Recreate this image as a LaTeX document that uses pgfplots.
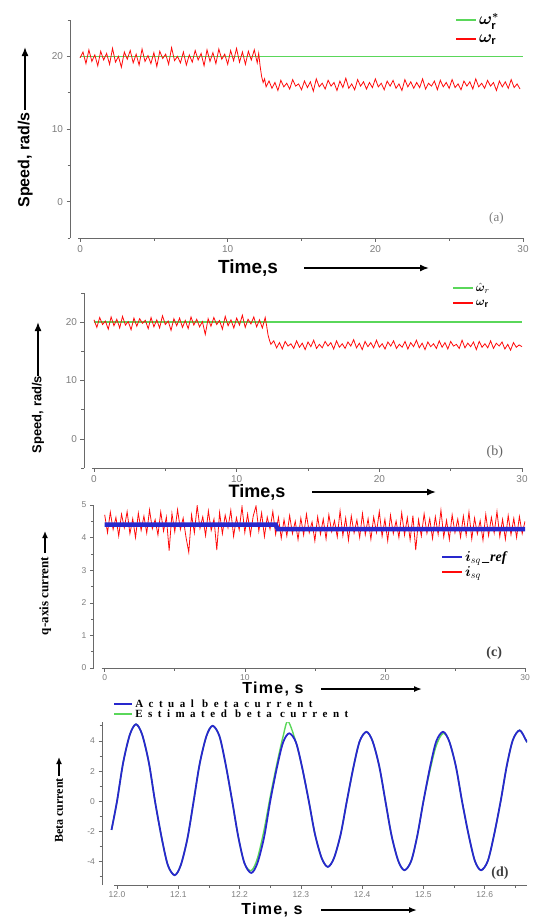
\documentclass[border=0pt]{standalone}
\usepackage{amsmath}
\usepackage{bm}
\usepackage{fontspec}
\setmainfont{Liberation Sans}
\newfontfamily\serif{Liberation Serif}
\newfontfamily\spserif[LetterSpace=50]{Liberation Serif}
\newfontfamily\spsans[LetterSpace=8]{Liberation Sans}
\usepackage{pgfplots}
\pgfplotsset{compat=1.18}
\usepackage{pgfplotstable}
\usetikzlibrary{arrows.meta}

\definecolor{myred}{RGB}{255,10,10}
\definecolor{mygreen}{RGB}{90,215,90}
\definecolor{myblue}{RGB}{40,40,205}
\definecolor{tickgray}{RGB}{125,125,125}
\definecolor{axgray}{RGB}{105,105,105}

\pgfplotsset{
  legend image code/.code={\draw[#1] (0pt,0pt) -- (20pt,0pt);},
  panel/.style={
    scale only axis,
    axis lines=left,
    axis line style={-, axgray, line width=0.8pt},
    tick style={axgray, line width=0.6pt},
    tick align=outside,
    major tick length=3.5pt, minor tick length=2.5pt,
    ticklabel style={font=\fontsize{10}{10}\selectfont, text=tickgray},
    /pgf/number format/assume math mode=true,
    legend cell align=left,
    legend style={draw=none, fill=none, inner sep=0pt},
  },
}

\pgfplotstableread{
t v
0.0 19.8
0.2 20.6
0.4 19.0
0.6 20.9
0.8 19.3
1.0 20.2
1.2 18.7
1.4 20.7
1.6 19.5
1.8 20.4
2.0 18.9
2.2 21.1
2.4 19.2
2.6 20.0
2.8 18.5
3.0 20.6
3.2 19.6
3.4 20.8
3.6 19.1
3.8 20.3
4.0 18.8
4.2 21.0
4.4 19.3
4.6 20.1
4.8 19.0
5.0 20.5
5.2 18.6
5.4 20.7
5.6 19.7
5.8 20.3
6.0 18.9
6.2 21.2
6.4 19.4
6.6 20.0
6.8 19.1
7.0 20.6
7.2 18.8
7.4 20.2
7.6 19.2
7.8 20.8
8.0 19.5
8.2 20.4
8.4 18.7
8.6 20.9
8.8 19.3
9.0 20.5
9.2 19.0
9.4 21.0
9.6 19.6
9.8 20.3
10.0 18.9
10.2 20.8
10.4 19.4
10.6 21.1
10.8 19.2
11.0 20.6
11.2 18.9
11.4 20.7
11.6 19.5
11.8 20.9
12.0 19.1
12.1 20.4
12.2 18.6
12.3 17.2
12.4 16.4
12.5 16.9
12.6 15.8
12.8 16.6
13.0 15.6
13.2 16.4
13.4 15.3
13.6 16.7
13.8 15.8
14.0 16.3
14.2 15.5
14.4 16.8
14.6 15.9
14.8 16.2
15.0 15.4
15.2 16.6
15.4 15.7
15.6 16.5
15.8 15.2
16.0 16.9
16.2 15.8
16.4 16.3
16.6 15.5
16.8 16.7
17.0 15.9
17.2 16.4
17.4 15.3
17.6 16.6
17.8 15.7
18.0 17.0
18.2 15.6
18.4 16.2
18.6 15.4
18.8 16.8
19.0 15.9
19.2 16.5
19.4 15.5
19.6 16.4
19.8 15.7
20.0 16.9
20.2 15.8
20.4 16.3
20.6 15.4
20.8 16.6
21.0 15.9
21.2 16.7
21.4 15.6
21.6 16.2
21.8 15.3
22.0 16.8
22.2 15.8
22.4 16.5
22.6 15.6
22.8 16.4
23.0 15.7
23.2 16.9
23.4 15.5
23.6 16.3
23.8 15.9
24.0 16.6
24.2 15.4
24.4 16.7
24.6 15.8
24.8 16.4
25.0 15.6
25.2 16.8
25.4 15.7
25.6 16.2
25.8 15.4
26.0 16.6
26.2 15.9
26.4 16.5
26.6 15.5
26.8 16.9
27.0 15.8
27.2 16.3
27.4 15.6
27.6 16.7
27.8 15.9
28.0 16.4
28.2 15.3
28.4 16.6
28.6 15.8
28.8 16.5
29.0 15.6
29.2 16.8
29.4 15.7
29.6 16.2
29.8 15.5
}\speedA

\pgfplotstableread{
t v
0.0 20.4
0.2 19.1
0.4 20.8
0.6 19.6
0.8 20.2
1.0 18.8
1.2 20.9
1.4 19.4
1.6 20.5
1.8 19.0
2.0 21.0
2.2 19.5
2.4 20.1
2.6 18.7
2.8 20.7
3.0 19.3
3.2 20.6
3.4 19.8
3.6 20.3
3.8 18.9
4.0 20.8
4.2 19.2
4.4 20.4
4.6 19.0
4.8 21.1
5.0 19.6
5.2 20.2
5.4 18.6
5.6 20.6
5.8 19.4
6.0 20.7
6.2 19.1
6.4 20.3
6.6 18.9
6.8 20.9
7.0 19.5
7.2 20.5
7.4 19.2
7.6 20.1
7.8 17.9
8.0 20.6
8.2 19.3
8.4 20.8
8.6 19.6
8.8 20.3
9.0 18.8
9.2 21.0
9.4 19.4
9.6 20.4
9.8 19.0
10.0 20.7
10.2 19.5
10.4 21.2
10.6 19.1
10.8 20.5
11.0 19.7
11.2 20.9
11.4 19.2
11.6 20.4
11.8 19.0
12.0 20.8
12.1 19.4
12.2 17.8
12.3 16.9
12.4 16.2
12.6 16.8
12.8 15.6
13.0 16.5
13.2 15.4
13.4 16.7
13.6 15.9
13.8 16.3
14.0 15.5
14.2 16.8
14.4 15.7
14.6 16.4
14.8 15.3
15.0 16.6
15.2 15.8
15.4 16.9
15.6 15.5
15.8 16.2
16.0 15.6
16.2 16.7
16.4 15.9
16.6 16.5
16.8 15.4
17.0 16.8
17.2 15.7
17.4 16.3
17.6 15.5
17.8 16.6
18.0 15.9
18.2 17.0
18.4 15.6
18.6 16.4
18.8 15.3
19.0 16.7
19.2 15.8
19.4 16.5
19.6 15.6
19.8 16.9
20.0 15.7
20.2 16.3
20.4 15.4
20.6 16.6
20.8 15.9
21.0 16.8
21.2 15.5
21.4 16.2
21.6 15.7
21.8 16.7
22.0 15.4
22.2 16.5
22.4 15.8
22.6 16.9
22.8 15.6
23.0 16.4
23.2 15.3
23.4 16.6
23.6 15.8
23.8 16.3
24.0 15.5
24.2 16.8
24.4 15.7
24.6 16.5
24.8 15.4
25.0 16.7
25.2 15.9
25.4 16.2
25.6 15.5
25.8 16.9
26.0 15.6
26.2 16.4
26.4 15.8
26.6 16.6
26.8 15.3
27.0 16.7
27.2 15.7
27.4 16.3
27.6 15.6
27.8 16.8
28.0 15.5
28.2 16.4
28.4 15.9
28.6 16.6
28.8 15.4
29.0 16.2
29.2 15.2
29.4 16.5
29.6 15.7
29.8 16.1
30.0 15.8
}\speedB

\pgfplotstableread{
t v
0.0 4.70
0.2 4.15
0.4 4.78
0.6 4.25
0.8 4.62
1.0 4.05
1.2 4.72
1.4 4.30
1.6 4.80
1.8 4.12
2.0 4.58
2.2 4.00
2.4 4.75
2.6 4.22
2.8 4.66
3.0 4.14
3.2 4.85
3.4 4.27
3.6 4.55
3.8 4.08
4.0 4.79
4.2 4.20
4.4 4.63
4.6 3.60
4.8 4.74
5.0 4.18
5.2 4.86
5.4 4.25
5.6 4.60
5.8 4.02
6.0 3.55
6.2 4.70
6.4 4.15
6.6 4.98
6.8 4.28
7.0 4.64
7.2 4.06
7.4 4.82
7.6 4.22
7.8 4.57
8.0 3.62
8.2 4.77
8.4 4.12
8.6 4.69
8.8 4.30
9.0 4.84
9.2 4.04
9.4 4.61
9.6 4.24
9.8 4.95
10.0 4.16
10.2 4.72
10.4 4.08
10.6 4.66
10.8 4.97
11.0 4.20
11.2 4.76
11.4 4.03
11.6 4.63
11.8 4.26
12.0 4.80
12.2 4.10
12.4 4.62
12.6 3.98
12.8 4.55
13.0 4.05
13.2 4.68
13.4 4.12
13.6 4.50
13.8 3.94
14.0 4.60
14.2 4.08
14.4 4.72
14.6 4.15
14.8 4.48
15.0 3.90
15.2 4.64
15.4 4.10
15.6 4.57
15.8 3.96
16.0 4.70
16.2 4.18
16.4 4.52
16.6 4.02
16.8 4.82
17.0 4.06
17.2 4.60
17.4 3.92
17.6 4.66
17.8 4.14
18.0 4.54
18.2 4.00
18.4 4.74
18.6 4.09
18.8 4.58
19.0 3.95
19.2 4.63
19.4 4.16
19.6 4.80
19.8 4.04
20.0 4.56
20.2 3.90
20.4 4.69
20.6 4.12
20.8 4.51
21.0 4.00
21.2 4.76
21.4 4.08
21.6 4.61
21.8 3.93
22.0 4.67
22.2 3.62
22.4 4.55
22.6 4.05
22.8 4.73
23.0 4.13
23.2 4.58
23.4 3.97
23.6 4.64
23.8 4.10
24.0 4.84
24.2 4.02
24.4 4.53
24.6 3.94
24.8 4.70
25.0 4.15
25.2 4.57
25.4 4.01
25.6 4.66
25.8 4.07
26.0 4.78
26.2 3.96
26.4 4.60
26.6 4.11
26.8 4.52
27.0 3.92
27.2 4.71
27.4 4.06
27.6 4.62
27.8 4.14
28.0 4.80
28.2 4.03
28.4 4.56
28.6 3.95
28.8 4.68
29.0 4.09
29.2 4.59
29.4 4.00
29.6 4.65
29.8 4.12
30.0 4.50
}\iqC

\pgfplotstableread{
t v
11.991 -1.9
12.000 0.0
12.010 2.55
12.021 4.42
12.031 5.1
12.041 4.42
12.052 2.55
12.062 0.0
12.073 -2.45
12.083 -4.24
12.094 -4.9
12.104 -4.24
12.115 -2.45
12.125 0.0
12.135 2.5
12.146 4.33
12.156 5.0
12.167 4.33
12.177 2.5
12.188 0.0
12.198 -2.38
12.208 -4.11
12.219 -4.75
12.229 -4.11
12.240 -2.38
12.250 0.0
12.261 2.25
12.271 3.9
12.281 4.5
12.292 3.9
12.302 2.25
12.313 0.0
12.323 -2.18
12.334 -3.77
12.344 -4.35
12.354 -3.77
12.365 -2.18
12.375 0.0
12.386 2.3
12.396 3.98
12.407 4.6
12.417 3.98
12.428 2.3
12.438 0.0
12.448 -2.28
12.459 -3.96
12.469 -4.57
12.480 -3.96
12.490 -2.28
12.500 0.0
12.511 2.3
12.521 3.98
12.532 4.6
12.542 3.98
12.553 2.3
12.563 0.0
12.574 -2.28
12.584 -3.96
12.594 -4.57
12.605 -3.96
12.615 -2.28
12.626 0.0
12.636 2.35
12.646 4.07
12.657 4.7
12.667 4.07
12.669 3.9
}\betaAct

\pgfplotstableread{
t v
11.991 -1.9
12.000 0.0
12.010 2.55
12.021 4.42
12.031 5.1
12.041 4.42
12.052 2.55
12.062 0.0
12.073 -2.45
12.083 -4.24
12.094 -4.9
12.104 -4.24
12.115 -2.45
12.125 0.0
12.135 2.5
12.146 4.33
12.156 5.0
12.167 4.33
12.177 2.5
12.188 0.0
12.198 -2.38
12.208 -4.11
12.219 -4.6
12.229 -3.8
12.240 -1.9
12.250 0.3
12.261 2.5
12.271 4.3
12.279 5.3
12.292 3.9
12.302 2.25
12.313 0.0
12.323 -2.18
12.334 -3.77
12.344 -4.35
12.354 -3.77
12.365 -2.18
12.375 0.0
12.386 2.3
12.396 3.98
12.407 4.6
12.417 3.98
12.428 2.3
12.438 0.0
12.448 -2.28
12.459 -3.96
12.469 -4.57
12.480 -3.96
12.490 -2.28
12.500 0.0
12.511 2.1
12.521 3.7
12.532 4.5
12.542 3.98
12.553 2.3
12.563 0.0
12.574 -2.28
12.584 -3.96
12.594 -4.57
12.605 -3.96
12.615 -2.28
12.626 0.0
12.636 2.35
12.646 4.07
12.657 4.7
12.667 4.07
12.669 3.9
}\betaEst

\begin{document}
\begin{tikzpicture}
\useasboundingbox (0pt,0pt) rectangle (547pt,-918pt);

% ---------------- (a)
\begin{axis}[panel,
  at={(70pt,-238pt)}, anchor=south west,
  width=453pt, height=218pt,
  xmin=-0.68, xmax=30, ymin=-5, ymax=25,
  x axis line style={shorten <=8pt},
  xtick={0,10,20,30}, minor xtick={5,15,25},
  ytick={0,10,20}, minor ytick={-5,5,15,25},
  xlabel={Time,s},
  xlabel style={at={(axis description cs:0.393,-0.138)}, anchor=center, font=\bfseries\fontsize{19}{19}\selectfont},
  ylabel={Speed, rad/s},
  ylabel style={at={(axis description cs:-0.099,0.358)}, anchor=center, font=\bfseries\fontsize{16}{16}\selectfont},
  legend style={at={(axis description cs:0.85,1.04)}, anchor=north west, font=\fontsize{16}{16}\selectfont, row sep=4pt},
]
\addplot[mygreen, line width=1.1pt] coordinates {(0,20) (30,20)};
\addlegendentry{$\boldsymbol{\omega}_{\mathbf{r}}^{\boldsymbol{*}}$}
\addplot[myred, line width=0.8pt, legend image post style={line width=1.8pt}] table[x=t, y=v] {\speedA};
\addlegendentry{$\boldsymbol{\omega}_{\mathbf{r}}$}
\node[font=\serif\fontsize{13}{13}\selectfont, text=tickgray] at (axis cs:28.2,-2.3) {(a)};
\end{axis}

% ---------------- (b)
\begin{axis}[panel,
  at={(84pt,-468pt)}, anchor=south west,
  width=438pt, height=175pt,
  xmin=-0.70, xmax=30, ymin=-5, ymax=25,
  x axis line style={shorten <=8pt},
  xtick={0,10,20,30}, minor xtick={5,15,25},
  ytick={0,10,20}, minor ytick={-5,5,15,25},
  xlabel={Time,s},
  xlabel style={at={(axis description cs:0.395,-0.137)}, anchor=center, font=\bfseries\fontsize{18}{18}\selectfont},
  ylabel={Speed, rad/s},
  ylabel style={at={(axis description cs:-0.105,0.306)}, anchor=center, font=\bfseries\fontsize{13}{13}\selectfont},
  legend style={at={(axis description cs:0.84,1.07)}, anchor=north west, font=\fontsize{13}{13}\selectfont, row sep=3pt},
]
\addplot[mygreen, line width=1.5pt] coordinates {(0,20) (30,20)};
\addlegendentry{$\hat{\boldsymbol{\omega}}_{r}$}
\addplot[myred, line width=0.8pt, legend image post style={line width=1.8pt}] table[x=t, y=v] {\speedB};
\addlegendentry{$\boldsymbol{\omega}_{\mathbf{r}}$}
\node[font=\serif\fontsize{14}{14}\selectfont, text=tickgray!80!black] at (axis cs:28.1,-2.2) {(b)};
\end{axis}

% ---------------- (c)
\begin{axis}[panel,
  at={(93.5pt,-668pt)}, anchor=south west,
  width=431.5pt, height=163pt,
  xmin=-0.8, xmax=30, ymin=0, ymax=5,
  x axis line style={shorten <=8pt},
  xtick={0,10,20,30}, minor xtick={5,15,25},
  ytick={0,1,2,3,4,5}, minor ytick={0.5,1.5,2.5,3.5,4.5},
  ticklabel style={font=\fontsize{8.5}{8.5}\selectfont},
  xlabel={Time, s},
  xlabel style={at={(axis description cs:0.416,-0.129)}, anchor=center, font=\spsans\bfseries\fontsize{16}{16}\selectfont},
  ylabel={q-axis current},
  ylabel style={at={(axis description cs:-0.112,0.442)}, anchor=center, font=\serif\bfseries\fontsize{13}{13}\selectfont},
  legend style={at={(axis description cs:0.805,0.73)}, anchor=north west, font=\serif\bfseries\itshape\fontsize{14}{14}\selectfont, row sep=0pt},
]
\addlegendimage{legend image code/.code={\draw[myblue, line width=2pt] (0pt,0pt) -- (20pt,0pt);}}
\addlegendentry{$\boldsymbol{i}_{sq}$\,\_ref}
\addlegendimage{legend image code/.code={\draw[myred, line width=2pt] (0pt,0pt) -- (20pt,0pt);}}
\addlegendentry{$\boldsymbol{i}_{sq}$}
\addplot[myred, line width=0.8pt, forget plot] table[x=t, y=v] {\iqC};
\addplot[myblue, line width=4.5pt, forget plot] coordinates {(0,4.40) (12.2,4.40) (12.35,4.26) (30,4.26)};
\node[font=\serif\bfseries\fontsize{14}{14}\selectfont, text=black!75] at (axis cs:27.8,0.46) {(c)};
\end{axis}

% ---------------- (d)
\begin{axis}[panel,
  at={(102pt,-885pt)}, anchor=south west,
  width=425pt, height=163pt,
  xmin=11.9755, xmax=12.669, ymin=-5.55, ymax=5.25,
  x axis line style={shorten <=12pt},
  xtick={12,12.1,12.2,12.3,12.4,12.5,12.6},
  xticklabels={12.0,12.1,12.2,12.3,12.4,12.5,12.6},
  minor xtick={12.05,12.15,12.25,12.35,12.45,12.55,12.65},
  ytick={-4,-2,0,2,4}, minor ytick={-5,-3,-1,1,3,5},
  ticklabel style={font=\fontsize{8.5}{8.5}\selectfont},
  xlabel={Time, s},
  xlabel style={at={(axis description cs:0.40,-0.153)}, anchor=center, font=\spsans\bfseries\fontsize{16}{16}\selectfont},
  ylabel={Beta current},
  ylabel style={at={(axis description cs:-0.101,0.457)}, anchor=center, font=\serif\bfseries\fontsize{12}{12}\selectfont},
  legend style={at={(axis description cs:0.026,1.15)}, anchor=north west, font=\spserif\bfseries\fontsize{11}{11}\selectfont, row sep=-3pt},
]
\addlegendimage{legend image code/.code={\draw[myblue, line width=2pt] (0pt,0pt) -- (18pt,0pt);}}
\addlegendentry{Actual betacurrent}
\addlegendimage{legend image code/.code={\draw[mygreen, line width=2pt] (0pt,0pt) -- (18pt,0pt);}}
\addlegendentry{Estimated beta current}
\addplot[mygreen, line width=1.4pt, smooth, forget plot] table[x=t, y=v] {\betaEst};
\addplot[myblue, line width=1.8pt, smooth, forget plot] table[x=t, y=v] {\betaAct};
\node[font=\serif\bfseries\fontsize{14}{14}\selectfont, text=black!75] at (axis cs:12.625,-4.77) {(d)};
\end{axis}

% ---------------- label arrows
\tikzset{lblarrow/.style={-{Latex[length=9pt,width=7pt]}, line width=1.5pt, black}}
\draw[lblarrow] (25pt,-110pt) -- (25pt,-47pt);
\draw[lblarrow] (304pt,-268pt) -- (429pt,-268pt);
\draw[lblarrow] (38pt,-376pt) -- (38pt,-322pt);
\draw[lblarrow] (312pt,-492pt) -- (436pt,-492pt);
\draw[lblarrow, -{Latex[length=7pt,width=6pt]}] (45pt,-553pt) -- (45pt,-531pt);
\draw[lblarrow, -{Latex[length=8pt,width=6pt]}] (321pt,-689pt) -- (422pt,-689pt);
\draw[lblarrow, -{Latex[length=7pt,width=6pt]}] (59pt,-776pt) -- (59pt,-757pt);
\draw[lblarrow, -{Latex[length=8pt,width=6pt]}] (321pt,-910pt) -- (417pt,-910pt);
\end{tikzpicture}
\end{document}
